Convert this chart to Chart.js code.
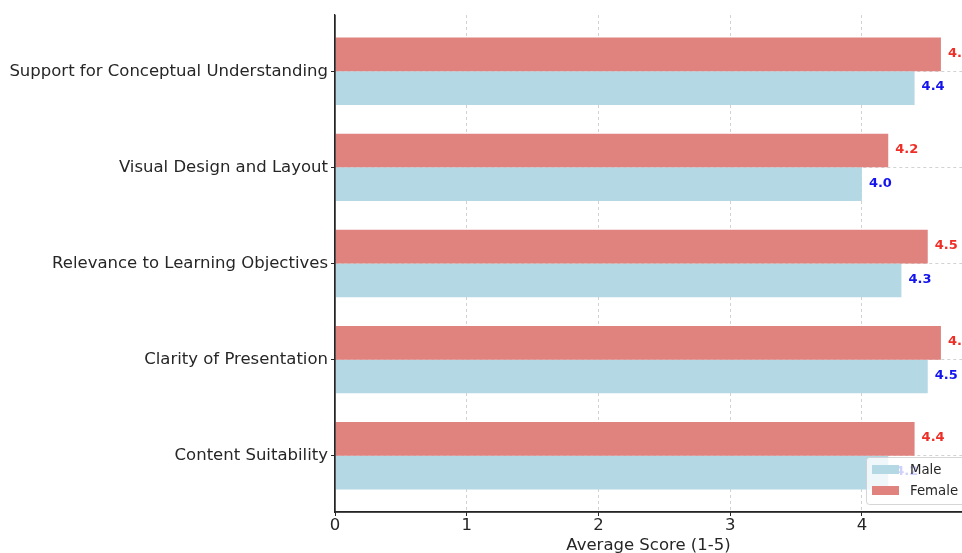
<!DOCTYPE html>
<html>
<head>
<meta charset="utf-8">
<script src="https://cdn.jsdelivr.net/npm/chart.js@4.4.0/dist/chart.umd.min.js"></script>
<style>
  html, body { margin: 0; padding: 0; background: #ffffff; }
  #wrap { width: 962px; height: 553px; }
</style>
</head>
<body>
<div id="wrap"><canvas id="c" width="962" height="553"></canvas></div>
<script>
const categories = [
  "Support for Conceptual Understanding",
  "Visual Design and Layout",
  "Relevance to Learning Objectives",
  "Clarity of Presentation",
  "Content Suitability"
];
const femaleScores = [4.6, 4.2, 4.5, 4.6, 4.4];
const maleScores = [4.4, 4.0, 4.3, 4.5, 4.2];
const xTicks = [0, 1, 2, 3, 4];
const xTitle = "Average Score (1-5)";
const seriesNames = ["Female", "Male"];

const FEMALE_COLOR = "#e0837f";
const MALE_COLOR = "#b4d8e4";
const FEMALE_TEXT = "#ee2f27";
const MALE_TEXT = "#1414ee";
const TEXT_COLOR = "#262626";
const GRID_COLOR = "#d2d2d2";
const FONT = "'DejaVu Sans', sans-serif";

const toPoints = arr => arr.map((v, i) => ({ x: v, y: i }));

const valueLabels = {
  id: "valueLabels",
  afterDatasetsDraw(chart) {
    const ctx = chart.ctx;
    ctx.save();
    ctx.font = "bold 13px " + FONT;
    ctx.textBaseline = "middle";
    ctx.textAlign = "left";
    chart.data.datasets.forEach((ds, di) => {
      const meta = chart.getDatasetMeta(di);
      ctx.fillStyle = ds.labelColor;
      meta.data.forEach((el, i) => {
        const v = ds.data[i].x;
        ctx.fillText(v.toFixed(1), el.x + 7, el.y - 1);
      });
    });
    ctx.restore();
  }
};

const axisLines = {
  id: "axisLines",
  afterDraw(chart) {
    const ctx = chart.ctx;
    const a = chart.chartArea;
    ctx.save();
    ctx.strokeStyle = TEXT_COLOR;
    ctx.lineWidth = 1.3;
    ctx.setLineDash([]);
    ctx.beginPath();
    ctx.moveTo(a.left, a.top);
    ctx.lineTo(a.left, a.bottom);
    ctx.lineTo(a.right, a.bottom);
    ctx.stroke();
    ctx.restore();
  }
};

const customLegend = {
  id: "customLegend",
  afterDraw(chart) {
    const ctx = chart.ctx;
    const area = chart.chartArea;
    const items = [
      { name: seriesNames[1], color: MALE_COLOR },
      { name: seriesNames[0], color: FEMALE_COLOR }
    ];
    const boxX = area.right - 96, boxY = area.bottom - 55, boxW = 110, boxH = 47;
    ctx.save();
    ctx.beginPath();
    if (ctx.roundRect) ctx.roundRect(boxX + 0.5, boxY + 0.5, boxW, boxH, 3);
    else ctx.rect(boxX + 0.5, boxY + 0.5, boxW, boxH);
    ctx.fillStyle = "rgba(255,255,255,0.8)";
    ctx.fill();
    ctx.strokeStyle = "rgba(204,204,204,0.8)";
    ctx.lineWidth = 1;
    ctx.stroke();
    ctx.font = "13.3px " + FONT;
    ctx.textBaseline = "middle";
    ctx.textAlign = "left";
    items.forEach((it, i) => {
      const cy = boxY + 12.5 + i * 21;
      ctx.fillStyle = it.color;
      ctx.fillRect(boxX + 6, cy - 4.5, 27, 9);
      ctx.fillStyle = TEXT_COLOR;
      ctx.fillText(it.name, boxX + 44, cy + 1);
    });
    ctx.restore();
  }
};

const gridColor = (c) => (c.tick && c.tick.value === 0 && c.scale.axis === "x") ? "rgba(0,0,0,0)" : GRID_COLOR;

new Chart(document.getElementById("c"), {
  type: "bar",
  data: {
    datasets: [
      {
        label: seriesNames[0],
        data: toPoints(femaleScores),
        backgroundColor: FEMALE_COLOR,
        labelColor: FEMALE_TEXT,
        borderWidth: 0,
        categoryPercentage: 0.7,
        barPercentage: 1.0
      },
      {
        label: seriesNames[1],
        data: toPoints(maleScores),
        backgroundColor: MALE_COLOR,
        labelColor: MALE_TEXT,
        borderWidth: 0,
        categoryPercentage: 0.7,
        barPercentage: 1.0
      }
    ]
  },
  options: {
    indexAxis: "y",
    responsive: false,
    animation: false,
    devicePixelRatio: 1,
    layout: { padding: { top: 15, right: 0, left: 0, bottom: 0 } },
    plugins: {
      legend: { display: false },
      tooltip: { enabled: false }
    },
    scales: {
      x: {
        type: "linear",
        min: 0,
        max: 4.76,
        offset: false,
        afterBuildTicks(scale) {
          scale.ticks = xTicks.map(v => ({ value: v }));
        },
        afterFit(scale) { scale.height = 41; },
        grid: {
          offset: false,
          color: gridColor,
          lineWidth: 1,
          drawTicks: true,
          tickLength: 4,
          tickColor: TEXT_COLOR,
          tickWidth: 1
        },
        border: { display: true, color: TEXT_COLOR, width: 1.3, dash: [3, 3] },
        ticks: {
          color: TEXT_COLOR,
          font: { family: FONT, size: 16.5 },
          padding: 0,
          maxRotation: 0
        },
        title: {
          display: true,
          text: xTitle,
          color: TEXT_COLOR,
          font: { family: FONT, size: 16.5 },
          padding: { top: 0, bottom: -3 }
        }
      },
      y: {
        type: "linear",
        min: -0.585,
        max: 4.585,
        reverse: true,
        offset: false,
        afterBuildTicks(scale) {
          scale.ticks = categories.map((c, i) => ({ value: i }));
        },
        afterFit(scale) { scale.width = 335; },
        grid: {
          offset: false,
          color: GRID_COLOR,
          lineWidth: 1,
          drawTicks: true,
          tickLength: 4,
          tickColor: TEXT_COLOR,
          tickWidth: 1
        },
        border: { display: true, color: TEXT_COLOR, width: 1.3, dash: [3, 3] },
        ticks: {
          autoSkip: false,
          color: TEXT_COLOR,
          font: { family: FONT, size: 16.5 },
          padding: 3,
          callback: (v) => categories[v] !== undefined ? categories[v] : ""
        }
      }
    }
  },
  plugins: [valueLabels, axisLines, customLegend]
});
</script>
</body>
</html>
